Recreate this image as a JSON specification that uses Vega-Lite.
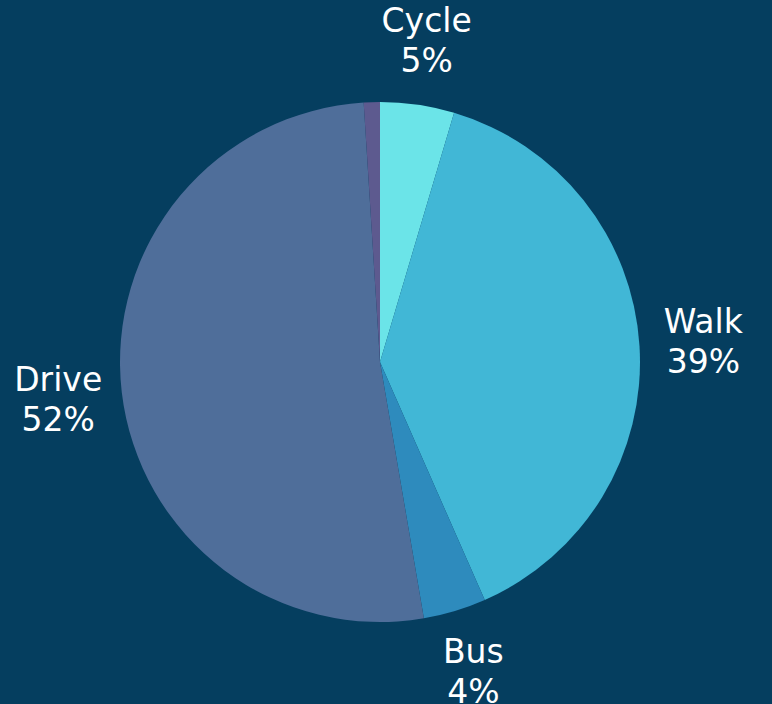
{
  "$schema": "https://vega.github.io/schema/vega-lite/v6.json",
  "autosize": {"type": "none"},
  "width": 760,
  "height": 684,
  "padding": {"left": 0, "right": 12, "top": 20, "bottom": 0},
  "background": "#053e5f",
  "config": {"view": {"stroke": null}},
  "data": {
    "values": [
      {"mode": "Cycle", "share": 4.6, "rank": 1, "label": "Cycle\n5%"},
      {"mode": "Walk", "share": 38.8, "rank": 2, "label": "Walk\n39%"},
      {"mode": "Bus", "share": 3.9, "rank": 3, "label": "Bus\n4%"},
      {"mode": "Drive", "share": 51.7, "rank": 4, "label": "Drive\n52%"},
      {"mode": "Other", "share": 1.0, "rank": 5, "label": ""}
    ]
  },
  "encoding": {
    "theta": {"field": "share", "type": "quantitative", "stack": true},
    "order": {"field": "rank", "type": "quantitative"}
  },
  "layer": [
    {
      "mark": {"type": "arc", "outerRadius": 260},
      "encoding": {
        "color": {
          "field": "mode",
          "type": "nominal",
          "legend": null,
          "scale": {
            "domain": ["Cycle", "Walk", "Bus", "Drive", "Other"],
            "range": ["#6be4e8", "#41b7d6", "#2e8bbd", "#4f6e9a", "#5d5a8f"]
          }
        }
      }
    },
    {
      "mark": {
        "type": "text",
        "radius": 324,
        "dy": -19,
        "fontSize": 33,
        "font": "DejaVu Sans",
        "color": "#ffffff",
        "lineBreak": "\n",
        "lineHeight": 40,
        "align": "center",
        "baseline": "middle"
      },
      "encoding": {
        "text": {"field": "label", "type": "nominal"}
      }
    }
  ]
}
